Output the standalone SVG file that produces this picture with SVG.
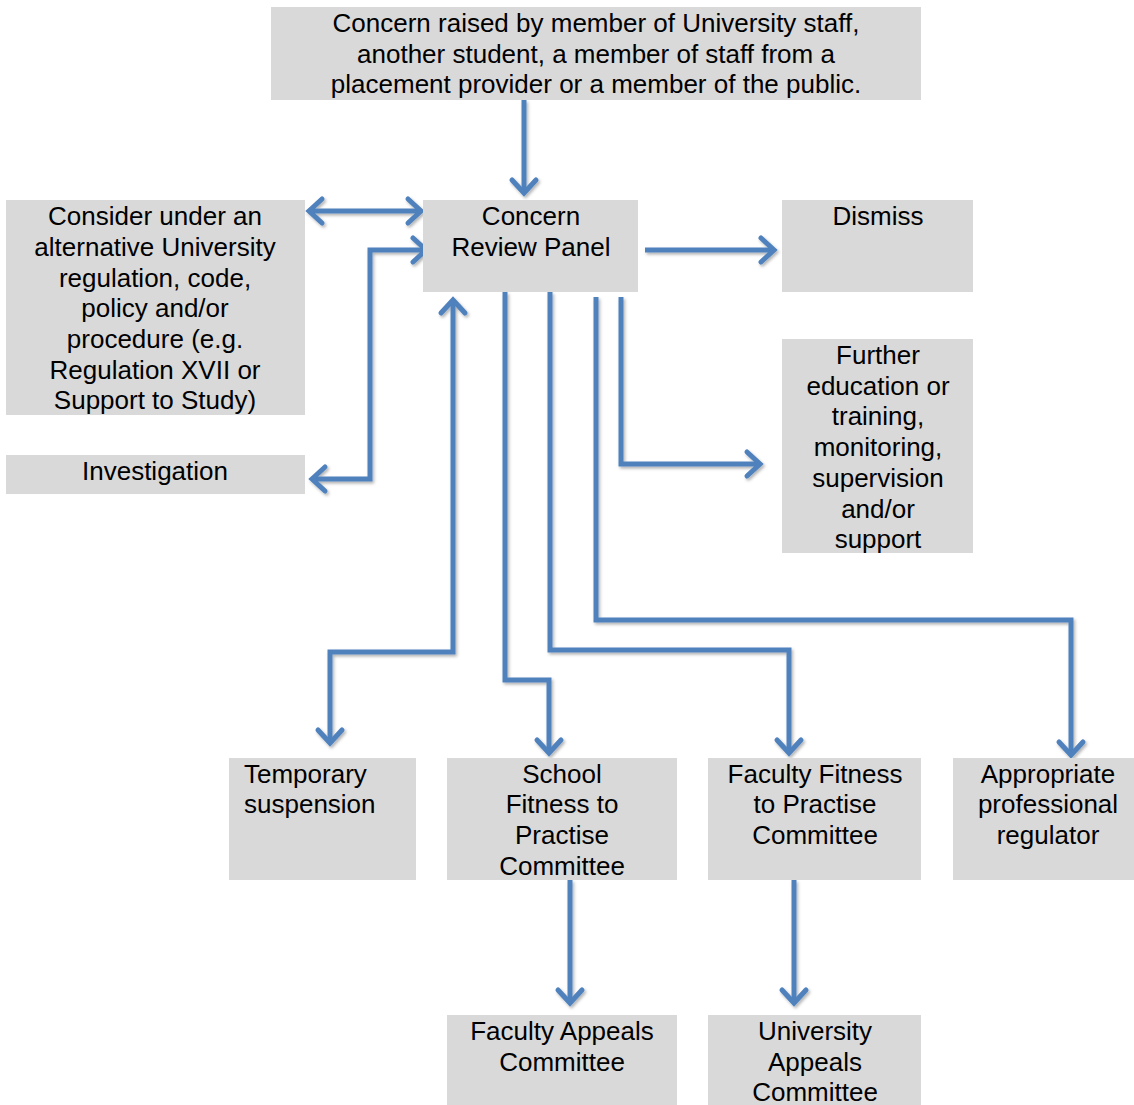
<svg xmlns="http://www.w3.org/2000/svg" width="1134" height="1105" viewBox="0 0 1134 1105">
<style>
.box{fill:#d9d9d9;}
.t{font-family:"Liberation Sans",Arial,sans-serif;font-size:26px;fill:#000;text-anchor:middle;}
.l{text-anchor:start;}
.c{fill:none;stroke:#4f81bd;stroke-width:5;stroke-linejoin:miter;}
</style>
<defs>
<filter id="sh" x="-20%" y="-20%" width="140%" height="140%">
<feDropShadow dx="1.5" dy="2" stdDeviation="1.5" flood-color="#000" flood-opacity="0.3"/>
</filter>
<marker id="ah" markerUnits="userSpaceOnUse" markerWidth="40" markerHeight="40" viewBox="-20 -20 40 40" refX="0" refY="0" orient="auto-start-reverse" overflow="visible">
<path d="M -13 -12 L 0 0 L -13 12" fill="none" stroke="#4f81bd" stroke-width="5" stroke-linecap="round" stroke-linejoin="miter"/>
</marker>
</defs>
<rect width="1134" height="1105" fill="#fff"/>

<g id="connectors" filter="url(#sh)">
<path class="c" d="M 524 100 L 524 193" marker-end="url(#ah)"/>
<path class="c" d="M 309 211 L 421 211" marker-start="url(#ah)" marker-end="url(#ah)"/>
<path class="c" d="M 312 479 L 370 479 L 370 250 L 426 250" marker-start="url(#ah)" marker-end="url(#ah)"/>
<path class="c" d="M 330 743 L 330 652 L 453 652 L 453 300" marker-start="url(#ah)" marker-end="url(#ah)"/>
<path class="c" d="M 505 292 L 505 680 L 549 680 L 549 753" marker-end="url(#ah)"/>
<path class="c" d="M 550 292 L 550 650 L 789 650 L 789 753" marker-end="url(#ah)"/>
<path class="c" d="M 596 297 L 596 620 L 1071 620 L 1071 755" marker-end="url(#ah)"/>
<path class="c" d="M 621 297 L 621 464 L 760 464" marker-end="url(#ah)"/>
<path class="c" d="M 645 250 L 774 250" marker-end="url(#ah)"/>
<path class="c" d="M 570 880 L 570 1003" marker-end="url(#ah)"/>
<path class="c" d="M 794 880 L 794 1003" marker-end="url(#ah)"/>
</g>

<g id="n-concern-raised">
<rect class="box" x="271" y="7" width="650" height="93"/>
<text class="t"><tspan x="596" y="32">Concern raised by member of University staff,</tspan><tspan x="596" y="63">another student, a member of staff from a</tspan><tspan x="596" y="93">placement provider or a member of the public.</tspan></text>
</g>
<g id="n-alternative">
<rect class="box" x="6" y="200" width="299" height="215"/>
<text class="t"><tspan x="155" y="225">Consider under an</tspan><tspan x="155" y="256">alternative University</tspan><tspan x="155" y="287">regulation, code,</tspan><tspan x="155" y="317">policy and/or</tspan><tspan x="155" y="348">procedure (e.g.</tspan><tspan x="155" y="379">Regulation XVII or</tspan><tspan x="155" y="409">Support to Study)</tspan></text>
</g>
<g id="n-review-panel">
<rect class="box" x="423" y="200" width="215" height="92"/>
<text class="t"><tspan x="531" y="225">Concern</tspan><tspan x="531" y="256">Review Panel</tspan></text>
</g>
<g id="n-dismiss">
<rect class="box" x="782" y="200" width="191" height="92"/>
<text class="t"><tspan x="878" y="225">Dismiss</tspan></text>
</g>
<g id="n-investigation">
<rect class="box" x="6" y="455" width="299" height="39"/>
<text class="t"><tspan x="155" y="480">Investigation</tspan></text>
</g>
<g id="n-further">
<rect class="box" x="782" y="339" width="191" height="214"/>
<text class="t"><tspan x="878" y="364">Further</tspan><tspan x="878" y="395">education or</tspan><tspan x="878" y="425">training,</tspan><tspan x="878" y="456">monitoring,</tspan><tspan x="878" y="487">supervision</tspan><tspan x="878" y="518">and/or</tspan><tspan x="878" y="548">support</tspan></text>
</g>
<g id="n-temporary">
<rect class="box" x="229" y="758" width="187" height="122"/>
<text class="t l"><tspan x="244" y="783">Temporary</tspan><tspan x="244" y="813">suspension</tspan></text>
</g>
<g id="n-school-ftp">
<rect class="box" x="447" y="758" width="230" height="122"/>
<text class="t"><tspan x="562" y="783">School</tspan><tspan x="562" y="813">Fitness to</tspan><tspan x="562" y="844">Practise</tspan><tspan x="562" y="875">Committee</tspan></text>
</g>
<g id="n-faculty-ftp">
<rect class="box" x="708" y="758" width="213" height="122"/>
<text class="t"><tspan x="815" y="783">Faculty Fitness</tspan><tspan x="815" y="813">to Practise</tspan><tspan x="815" y="844">Committee</tspan></text>
</g>
<g id="n-regulator">
<rect class="box" x="953" y="758" width="181" height="122"/>
<text class="t"><tspan x="1048" y="783">Appropriate</tspan><tspan x="1048" y="813">professional</tspan><tspan x="1048" y="844">regulator</tspan></text>
</g>
<g id="n-faculty-appeals">
<rect class="box" x="447" y="1015" width="230" height="90"/>
<text class="t"><tspan x="562" y="1040">Faculty Appeals</tspan><tspan x="562" y="1071">Committee</tspan></text>
</g>
<g id="n-university-appeals">
<rect class="box" x="708" y="1015" width="213" height="90"/>
<text class="t"><tspan x="815" y="1040">University</tspan><tspan x="815" y="1071">Appeals</tspan><tspan x="815" y="1101">Committee</tspan></text>
</g>
</svg>
